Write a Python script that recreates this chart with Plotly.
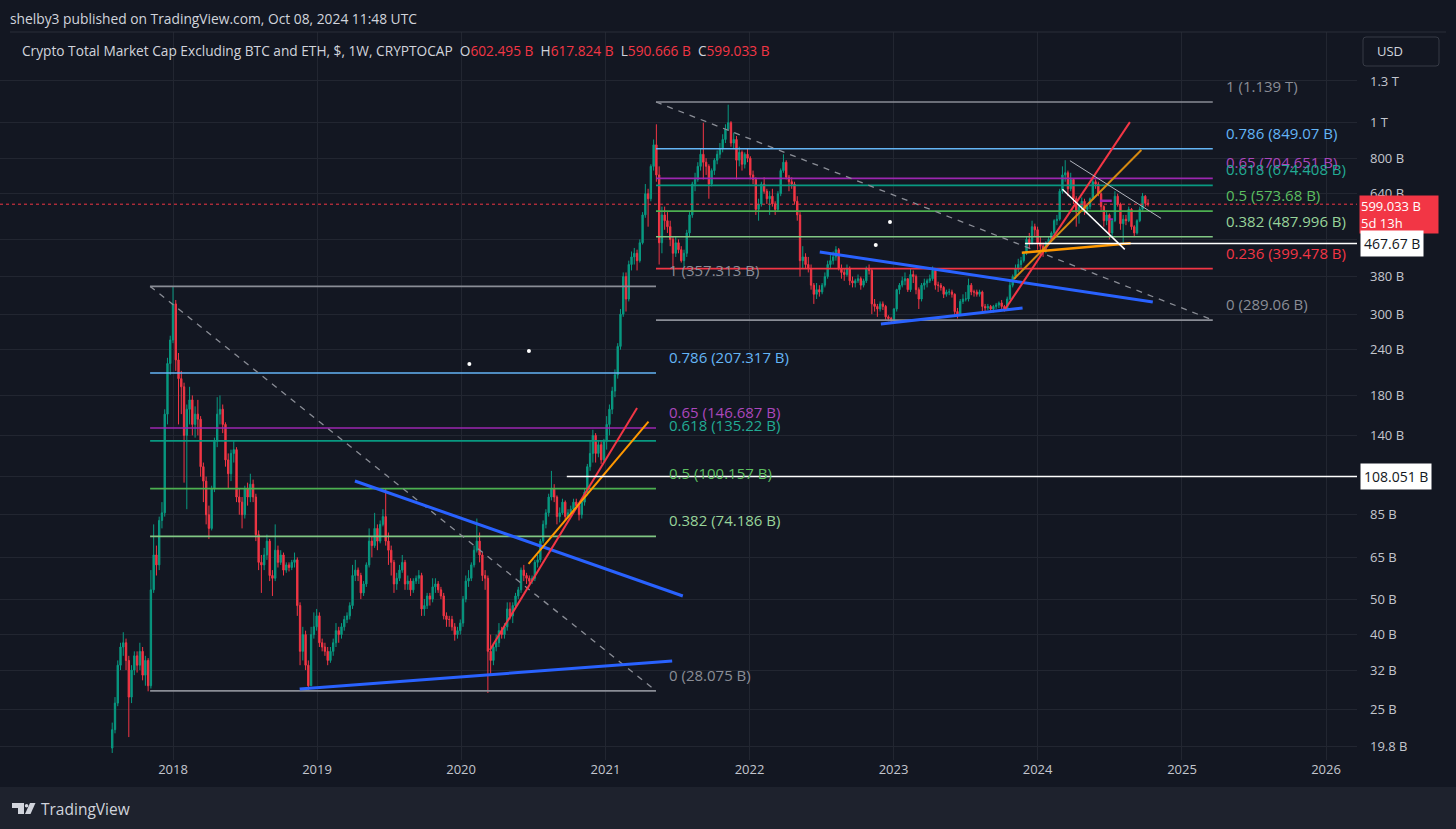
import math
import pandas as pd
import plotly.graph_objects as go

# ---------------- data (weekly candles, values in billions USD) ----------------
first_week = "2017-07-31"
first_open = 19.6

weekly_close = [
    22, 26, 33, 37, 38, 34, 27, 32, 35, 33,
    36, 31, 34, 29, 53, 66, 62, 82, 86, 160,
    220, 255, 320, 225, 200, 190, 140, 165, 175, 150,
    160, 155, 115, 105, 85, 78, 100, 135, 160, 165,
    150, 120, 110, 125, 128, 95, 92, 85, 100, 95,
    103, 95, 75, 63, 62, 66, 72, 58, 57, 68,
    63, 66, 60, 62, 61, 63, 64, 48, 36, 40,
    33, 29, 40, 42, 45, 38, 37, 36, 34, 36,
    38, 41, 40, 42, 44, 45, 48, 58, 60, 58,
    52, 55, 62, 72, 70, 78, 72, 80, 84, 72,
    68, 63, 55, 57, 60, 63, 55, 56, 53, 56,
    57, 58, 47, 48, 51, 50, 54, 55, 53, 51,
    45, 44, 44, 42, 40, 41, 43, 50, 56, 57,
    62, 68, 72, 66, 58, 57, 36, 34, 37, 38,
    41, 40, 42, 47, 45, 48, 51, 53, 60, 58,
    57, 56, 57, 63, 64, 72, 80, 86, 95, 100,
    95, 84, 86, 92, 84, 86, 88, 92, 90, 85,
    92, 98, 115, 125, 140, 125, 132, 120, 135, 150,
    165, 185, 205, 245, 300, 380, 330, 410, 430, 440,
    420, 470, 560, 640, 620, 760, 870, 720, 470, 560,
    540, 520, 480, 440, 470, 450, 420, 440, 500, 560,
    680, 700, 760, 820, 780, 760, 680, 740, 790, 820,
    850, 900, 960, 1000, 880, 900, 790, 830, 770, 820,
    800, 720, 700, 580, 600, 680, 650, 620, 630, 600,
    580, 640, 740, 780, 710, 690, 680, 610, 560, 420,
    430, 410, 400, 360, 340, 350, 345, 360, 380, 410,
    420, 430, 450, 400, 390, 385, 400, 370, 365, 370,
    375, 360, 370, 400, 395, 320, 315, 310, 320, 315,
    295, 292, 290, 310, 350, 360, 370, 375, 350, 385,
    380, 350, 330, 360, 365, 370, 375, 395, 360, 360,
    355, 340, 345, 345, 340, 305, 300, 325, 330, 330,
    360, 345, 345, 340, 345, 315, 312, 315, 310, 315,
    318, 322, 315, 310, 330, 360, 380, 400, 410, 420,
    440, 480, 470, 520, 510, 470, 460, 450, 470, 480,
    500, 540, 545, 650, 720, 730, 660, 700, 620, 570,
    590, 610, 580, 590, 620, 690, 680, 640, 590, 540,
    560, 500, 540, 630, 600, 530, 545, 540, 580, 520,
    500, 540, 580, 630, 602.495, 599.033,
]

weekly_high = [
    23, 27, 34, 38, 40.6, 39, 35, 33, 36, 36,
    38, 37, 35, 34.5, 60, 80, 70, 84, 92, 165,
    228, 262, 357, 328, 235, 210, 195, 170, 190, 180,
    168, 175, 158, 118, 108, 90, 102, 138, 178, 180,
    170, 152, 125, 128, 135, 130, 100, 95, 102, 104,
    110, 106, 97, 77, 66, 69, 75, 73, 60, 80,
    70, 68, 67, 63, 63, 64, 67, 65, 49, 42,
    41, 34, 42, 46, 47, 46, 39, 38, 37, 37,
    39, 43, 42, 43, 45, 46, 49, 62, 64, 61,
    59, 56, 63, 78, 74, 86, 80, 82, 88, 100,
    76, 70, 64, 59, 62, 66, 64, 58, 57, 57,
    58, 60, 59, 50, 52, 52, 57, 57, 56, 54,
    52, 46, 45, 45, 43, 42, 44, 51, 58, 60,
    63, 70, 83, 76, 67, 60, 58, 40, 38, 40,
    43, 42, 43, 49, 49, 49, 52, 54, 61, 62,
    59, 58, 58, 64, 66, 73, 82, 88, 97, 112,
    103, 96, 89, 94, 93, 88, 90, 94, 94, 91,
    93, 100, 117, 135, 145, 142, 136, 135, 137, 158,
    170, 190, 212, 250, 310, 390, 390, 420, 445, 455,
    450, 480, 570, 680, 660, 770, 900, 990, 760, 590,
    590, 570, 540, 490, 490, 480, 460, 450, 510, 570,
    690, 730, 780, 850, 1000, 800, 770, 750, 800, 840,
    880, 930, 990, 1120, 1010, 940, 920, 860, 840, 830,
    850, 810, 740, 710, 620, 690, 710, 660, 650, 660,
    610, 650, 750, 820, 790, 720, 710, 690, 630, 570,
    460, 440, 430, 410, 365, 365, 360, 365, 390, 420,
    440, 445, 460, 455, 410, 400, 410, 405, 380, 375,
    385, 380, 375, 405, 410, 400, 330, 320, 325, 325,
    318, 298, 295, 312, 352, 365, 380, 390, 375, 400,
    395, 385, 355, 365, 375, 375, 385, 405, 400, 368,
    365, 358, 350, 352, 350, 342, 312, 330, 340, 345,
    375, 365, 350, 350, 350, 348, 320, 320, 318, 318,
    322, 325, 328, 318, 335, 370, 385, 410, 425, 430,
    445, 490, 500, 540, 530, 520, 490, 470, 475, 490,
    505, 545, 560, 660, 760, 790, 740, 730, 705, 630,
    600, 625, 620, 600, 625, 710, 700, 690, 645, 595,
    575, 565, 545, 650, 640, 605, 560, 560, 590, 585,
    525, 545, 590, 643, 635, 617.824,
]

weekly_low = [
    19, 21.5, 25.5, 32, 35, 32, 21, 26, 31, 31.5,
    32, 30, 29, 28, 28.5, 52, 58, 60, 78, 84,
    150, 205, 250, 210, 150, 160, 104, 88, 150, 140,
    138, 140, 108, 92, 80, 73, 77, 98, 130, 150,
    142, 115, 100, 105, 118, 92, 85, 78, 83, 90,
    92, 92, 72, 60, 52, 60, 64, 56, 51, 56,
    61, 62, 58, 59, 59.5, 60, 61, 45, 33, 34,
    32, 28.1, 29, 39, 41, 37, 36, 35, 33, 33.5,
    35, 37, 38, 39, 41, 43, 44, 47, 56, 56,
    50, 51, 54, 61, 65, 69, 68, 71, 79, 70,
    62, 58, 52, 53, 56, 59, 53, 53, 51, 52,
    55, 55, 45, 45, 47, 48, 49, 52, 52, 50,
    44, 42, 42, 41, 38.5, 39, 40, 42, 49, 54,
    56, 61, 67, 63, 56, 53, 27.7, 31, 33, 36,
    37, 39, 39, 41, 44, 43, 47, 50, 52, 56,
    55, 55, 55, 56, 61, 63, 71, 78, 84, 93,
    92, 80, 81, 85, 82, 83, 85, 87, 88, 82,
    83, 90, 96, 112, 118, 118, 122, 117, 118, 128,
    140, 160, 178, 200, 240, 295, 305, 325, 395, 410,
    395, 415, 465, 550, 520, 610, 740, 690, 410, 440,
    510, 500, 460, 400, 430, 440, 415, 400, 430, 490,
    550, 650, 690, 740, 700, 720, 620, 670, 720, 770,
    800, 830, 880, 950, 860, 850, 700, 760, 740, 750,
    780, 700, 680, 560, 540, 590, 640, 600, 560, 590,
    560, 570, 630, 730, 700, 650, 660, 600, 540, 380,
    400, 400, 390, 350, 320, 330, 335, 340, 355, 375,
    400, 410, 420, 395, 375, 370, 380, 360, 355, 355,
    365, 350, 355, 365, 385, 300, 305, 295, 305, 308,
    289, 287, 285, 288, 305, 340, 355, 360, 345, 345,
    365, 340, 310, 325, 350, 355, 365, 370, 350, 345,
    348, 332, 335, 338, 333, 295, 292, 298, 320, 325,
    325, 338, 335, 335, 335, 305, 305, 308, 305, 303,
    310, 312, 310, 305, 308, 328, 355, 375, 390, 400,
    415, 435, 455, 465, 490, 450, 430, 430, 440, 465,
    475, 495, 525, 540, 640, 690, 630, 650, 600, 520,
    530, 580, 560, 570, 580, 615, 660, 630, 575, 520,
    525, 480, 490, 535, 590, 510, 467, 525, 535, 510,
    490, 495, 535, 575, 590, 590.666,
]

last_open = 602.495
last_price = 599.033

# Fibonacci retracement levels (ratio, value in B)
fib_ratios_2018 = [1, 0.786, 0.65, 0.618, 0.5, 0.382, 0]
fib_values_2018 = [357.313, 207.317, 146.687, 135.22, 100.157, 74.186, 28.075]
fib_ratios_2021 = [1, 0.786, 0.65, 0.618, 0.5, 0.382, 0.236, 0]
fib_values_2021 = [1139, 849.07, 704.651, 674.408, 573.68, 487.996, 399.478, 289.06]

# marked horizontal levels (price-axis labels)
marked_levels = [108.051, 467.67]

y_ticks = [19.8, 25, 32, 40, 50, 65, 85, 108, 140, 180, 240, 300, 380, 480, 640, 800, 1000, 1300]
year_ticks = [2018, 2019, 2020, 2021, 2022, 2023, 2024, 2025, 2026]

# ---------------- styling / geometry ----------------
BG = "#131722"
FOOT = "#1e222d"
GRID = "#222631"
TXT = "#d1d4dc"
AX_TXT = "#c3c6ce"
UP = "#089981"
DOWN = "#f23645"
FONT = "Open Sans, Lato, sans-serif"

W, H = 1456, 829
ML, MR, MT, MB = 0, 99, 32, 69
PW = W - ML - MR
PH = H - MT - MB
X_RANGE = ["2016-10-19 14:00", "2026-03-20 12:00"]
Y_RANGE = [math.log10(18.18), math.log10(1769)]


def px_x(X):
    return (X - ML) / PW


def px_y(Y):
    return (H - MB - Y) / PH


def fmt_val(v):
    return f"{v/1000:g} T" if v >= 1000 else f"{v:g} B"


fib_colors = {1: "#8a8d96", 0.786: "#64b5f6", 0.65: "#9c27b0", 0.618: "#089981",
              0.5: "#4caf50", 0.382: "#81c784", 0.236: "#f23645", 0: "#8a8d96"}
fib_text_colors = {1: "#8a8d96", 0.786: "#64b5f6", 0.65: "#ab47bc", 0.618: "#22ab94",
                   0.5: "#5cbf60", 0.382: "#98d49a", 0.236: "#f23645", 0: "#8a8d96"}

dates = pd.date_range(first_week, periods=len(weekly_close), freq="7D")
opens = [first_open] + weekly_close[:-1]

fig = go.Figure()

fig.add_trace(go.Candlestick(
    x=dates, open=opens, high=weekly_high, low=weekly_low, close=weekly_close,
    increasing=dict(line=dict(color=UP, width=1), fillcolor=UP),
    decreasing=dict(line=dict(color=DOWN, width=1), fillcolor=DOWN),
    whiskerwidth=0, showlegend=False, hoverinfo="skip",
))


def seg(x0, y0, x1, y1, color, width, dash="solid"):
    fig.add_trace(go.Scatter(
        x=[x0, x1], y=[y0, y1], mode="lines",
        line=dict(color=color, width=width, dash=dash),
        showlegend=False, hoverinfo="skip",
    ))


annotations = []

# ---- fib retracement sets ----
fib_sets = [
    (fib_ratios_2018, fib_values_2018, "2017-11-04", "2021-05-09", "2021-06-06"),
    (fib_ratios_2021, fib_values_2021, "2021-05-09", "2025-03-20", "2025-04-17"),
]
for ratios, values, xs, xe, xl in fib_sets:
    for r, v in zip(ratios, values):
        seg(xs, v, xe, v, fib_colors[r], 1.6)
        annotations.append(dict(
            x=xl, y=math.log10(v), xref="x", yref="y", xanchor="left", yanchor="middle",
            yshift=16, showarrow=False, text=f"{r:g} ({fmt_val(v)})",
            font=dict(family=FONT, size=15, color=fib_text_colors[r]),
        ))
    seg(xs, max(values), xe, min(values), "#8a8d96", 1.3, "6px,6px")

# ---- trend lines ----
seg("2018-11-18", 28.4, "2021-06-19", 33.9, "#2962ff", 3)
seg("2019-04-07", 105.1, "2021-07-16", 51.0, "#2962ff", 3)
seg("2020-03-14", 36.3, "2021-03-22", 166.3, "#f23645", 2)
seg("2020-06-20", 62.4, "2021-04-20", 152.6, "#ff9800", 2)
seg("2022-06-28", 443.6, "2024-10-19", 323.7, "#2962ff", 3)
seg("2022-11-30", 282.0, "2023-11-24", 311.9, "#2962ff", 3)
seg("2023-10-11", 309.9, "2024-08-22", 1004.0, "#f23645", 2)
seg("2023-11-02", 374.4, "2024-09-20", 842.0, "#d68910", 2)
seg("2023-11-22", 441.6, "2024-08-24", 468.4, "#ff9800", 2.5)
seg("2024-03-23", 787.5, "2024-11-09", 548.0, "#b2b5be", 1)
seg("2024-03-04", 657.8, "2024-08-09", 451.0, "#ffffff", 1.5)
seg("2024-06-07", 612.0, "2024-07-07", 612.0, "#9c27b0", 2.5)
seg("2024-06-28", 545.0, "2024-07-10", 545.0, "#9c27b0", 2)

# ---- horizontal rays ----
seg("2020-09-25", marked_levels[0], X_RANGE[1], marked_levels[0], "#ffffff", 1.5)
seg("2023-11-30", marked_levels[1], X_RANGE[1], marked_levels[1], "#ffffff", 1.5)
seg(X_RANGE[0], last_price, X_RANGE[1], last_price, DOWN, 1, "dot")

# ---- small dots ----
fig.add_trace(go.Scatter(
    x=["2020-01-22", "2020-06-21", "2022-12-23", "2022-11-17"],
    y=[219.3, 238.0, 535.6, 463.4], mode="markers",
    marker=dict(color="#ffffff", size=4), showlegend=False, hoverinfo="skip",
))

# ---- texts ----
annotations.append(dict(
    x=px_x(8), y=px_y(18), xref="paper", yref="paper", xanchor="left", yanchor="middle",
    showarrow=False, text="shelby3 published on TradingView.com, Oct 08, 2024 11:48 UTC",
    font=dict(family=FONT, size=13.8, color=TXT),
))
red = DOWN
legend_txt = ("Crypto Total Market Cap Excluding BTC and ETH, $, 1W, CRYPTOCAP  "
              f"O<span style='color:{red}'>{last_open} B</span>  "
              f"H<span style='color:{red}'>{weekly_high[-1]} B</span>  "
              f"L<span style='color:{red}'>{weekly_low[-1]} B</span>  "
              f"C<span style='color:{red}'>{last_price} B</span>")
annotations.append(dict(
    x=px_x(20), y=px_y(50), xref="paper", yref="paper", xanchor="left", yanchor="middle",
    showarrow=False, text=legend_txt, font=dict(family=FONT, size=13.7, color=TXT),
))
annotations.append(dict(
    x=px_x(1375), y=px_y(51), xref="paper", yref="paper", xanchor="left", yanchor="middle",
    showarrow=False, text="USD", font=dict(family=FONT, size=13, color=TXT),
))
# price axis boxes
annotations.append(dict(
    x=px_x(1359), y=math.log10(last_price), xref="paper", yref="y", xanchor="left",
    yanchor="top", yshift=9, showarrow=False, align="left",
    text=f"{last_price} B<br>5d 13h", bgcolor=DOWN, borderpad=1, width=76,
    font=dict(family=FONT, size=13, color="#ffffff"),
))
for lv in marked_levels:
    annotations.append(dict(
        x=px_x(1360), y=math.log10(lv), xref="paper", yref="y", xanchor="left",
        yanchor="middle", showarrow=False, align="left",
        text=f"{lv:g} B", bgcolor="#ffffff", borderpad=3,
        font=dict(family=FONT, size=14, color="#131722"),
    ))
# footer
annotations.append(dict(
    x=px_x(39), y=px_y(809), xref="paper", yref="paper", xanchor="left", yanchor="middle",
    showarrow=False, text="TradingView", font=dict(family=FONT, size=15.5, color=TXT),
))

# ---- layout shapes (frame, footer, logo, USD button) ----
shapes = [
    dict(type="rect", xref="paper", yref="paper", x0=px_x(0), x1=px_x(W), y0=px_y(787),
         y1=px_y(H), fillcolor=FOOT, line=dict(width=0), layer="below"),
    dict(type="line", xref="paper", yref="paper", x0=px_x(10), x1=px_x(1446), y0=px_y(32),
         y1=px_y(32), line=dict(color="#2a2e39", width=1)),
    dict(type="path", xref="paper", yref="paper",
         path=(f"M {px_x(1366)},{px_y(37)} L {px_x(1436)},{px_y(37)} "
               f"Q {px_x(1439)},{px_y(37)} {px_x(1439)},{px_y(40)} L {px_x(1439)},{px_y(63)} "
               f"Q {px_x(1439)},{px_y(66)} {px_x(1436)},{px_y(66)} L {px_x(1366)},{px_y(66)} "
               f"Q {px_x(1363)},{px_y(66)} {px_x(1363)},{px_y(63)} L {px_x(1363)},{px_y(40)} "
               f"Q {px_x(1363)},{px_y(37)} {px_x(1366)},{px_y(37)} Z"),
         line=dict(color="#363a45", width=1)),
    dict(type="path", xref="paper", yref="paper",
         path=(f"M {px_x(12)},{px_y(803)} L {px_x(24)},{px_y(803)} L {px_x(24)},{px_y(814)} "
               f"L {px_x(18)},{px_y(814)} L {px_x(18)},{px_y(808)} L {px_x(12)},{px_y(808)} Z"),
         fillcolor=TXT, line=dict(width=0)),
    dict(type="circle", xref="paper", yref="paper", x0=px_x(24.8), x1=px_x(28.4),
         y0=px_y(807.5), y1=px_y(803.9), fillcolor=TXT, line=dict(width=0)),
    dict(type="path", xref="paper", yref="paper",
         path=(f"M {px_x(30)},{px_y(803)} L {px_x(35.5)},{px_y(803)} L {px_x(30.5)},{px_y(814)} "
               f"L {px_x(25)},{px_y(814)} Z"),
         fillcolor=TXT, line=dict(width=0)),
]

fig.update_layout(
    width=W, height=H,
    margin=dict(l=ML, r=MR, t=MT, b=MB),
    paper_bgcolor=BG, plot_bgcolor=BG,
    showlegend=False, hovermode=False, dragmode=False,
    annotations=annotations, shapes=shapes,
    font=dict(family=FONT, color=AX_TXT),
    xaxis=dict(
        type="date", range=X_RANGE, rangeslider=dict(visible=False),
        tickvals=[f"{y}-01-01" for y in year_ticks], ticktext=[str(y) for y in year_ticks],
        showgrid=True, gridcolor=GRID, gridwidth=1, zeroline=False, showline=False,
        ticks="", tickfont=dict(family=FONT, size=13, color=AX_TXT), fixedrange=True,
    ),
    yaxis=dict(
        type="log", range=Y_RANGE, side="right",
        tickvals=y_ticks, ticktext=[fmt_val(v) for v in y_ticks],
        showgrid=True, gridcolor=GRID, gridwidth=1, zeroline=False, showline=False,
        ticks="", ticklabelstandoff=12, tickfont=dict(family=FONT, size=13, color=AX_TXT),
        fixedrange=True,
    ),
)

page_fix = ("document.body.style.margin='0px';document.body.style.padding='0px';"
            "document.body.style.backgroundColor='#131722';"
            "document.documentElement.style.overflow='hidden';")

fig.write_html("out.html", config={"displayModeBar": False}, post_script=page_fix)
